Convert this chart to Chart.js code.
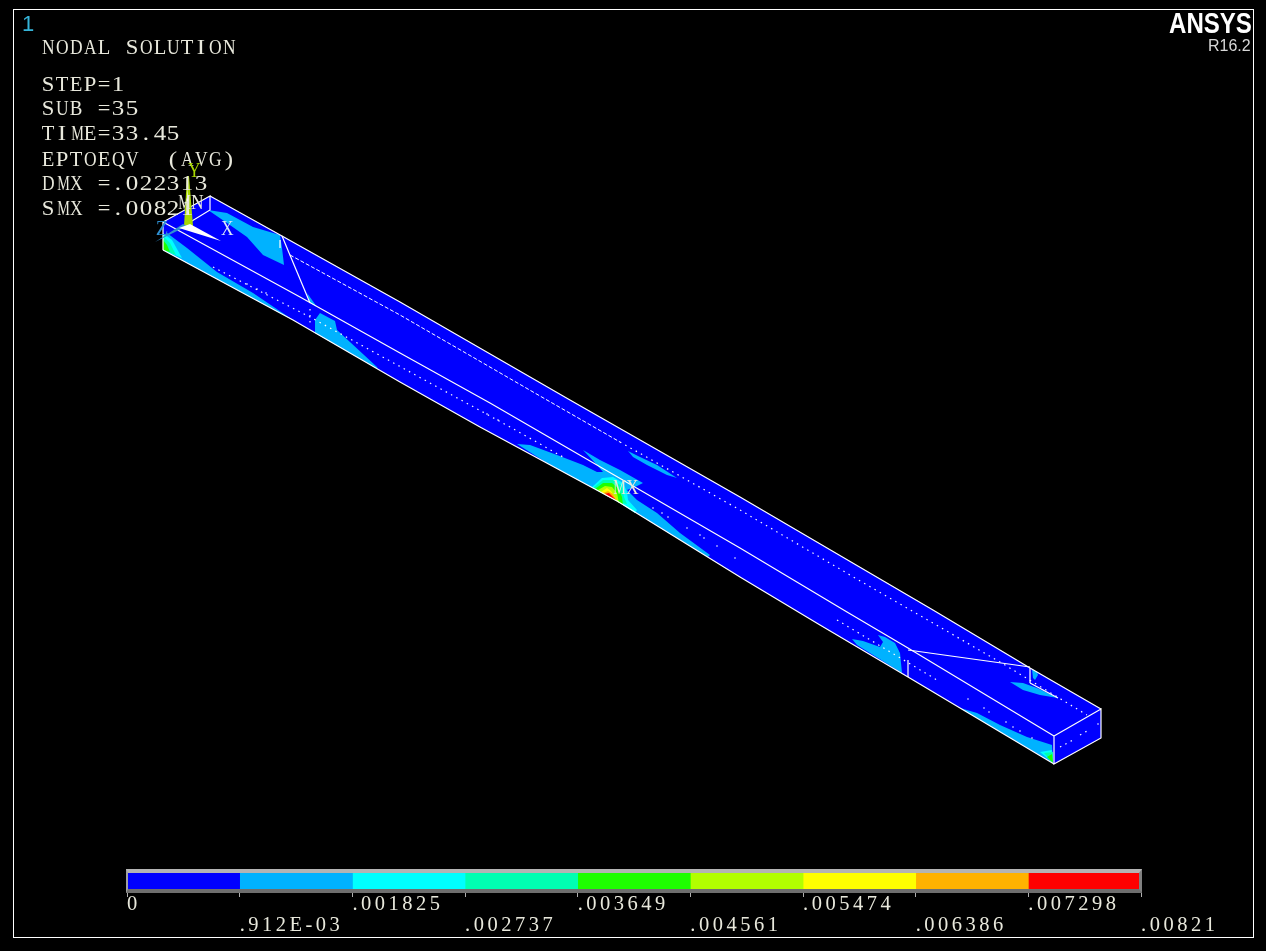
<!DOCTYPE html>
<html>
<head>
<meta charset="utf-8">
<script src="https://cdn.jsdelivr.net/npm/chart.js@4"></script>
<style>
html,body{margin:0;padding:0;background:#000;width:1266px;height:951px;overflow:hidden}
canvas{position:absolute;left:0}
#frame{position:absolute;left:13px;top:9px;width:1239px;height:927px;border:1px solid #fff;pointer-events:none}
#barframe{position:absolute;left:126px;top:869px;width:1011px;height:16px;border-top:4px solid #b4b4b4;border-bottom:4px solid #6e6e6e;border-left:2px solid #a0a0a0;border-right:3px solid #808080;pointer-events:none}
.t{position:absolute;white-space:pre;font-family:"Liberation Serif",serif;font-size:20.5px;line-height:24px;color:#e8e8dc}
.t span{display:inline-block;width:13.95px;text-align:center}
.s{font-family:"Liberation Sans",sans-serif}
</style>
</head>
<body>
<canvas id="beam" width="1266" height="951" style="top:0"></canvas>
<canvas id="bar" width="1266" height="72" style="top:869px"></canvas>
<div id="barframe"></div>
<div id="frame"></div>
<div id="labels"></div>
<script>
// ---------- legend ----------
const levels = [0, .000912, .001825, .002737, .003649, .004561, .005474, .006386, .007298, .00821];
const levelLabels = ['0', '.912E-03', '.001825', '.002737', '.003649', '.004561', '.005474', '.006386', '.007298', '.00821'];
const bandColors = ['#0000ff', '#00b2ff', '#00ffff', '#00ffb2', '#1eff00', '#b2ff00', '#ffff00', '#ffb200', '#ff0000'];

// ---------- beam edges (deformed shape) ----------
const edgeBack = [[210,196],[282,236],[400,302],[570,400],[740,497],[933,610],[1030,668],[1101,709]];
const edgeNear = [[163,222],[300,297],[400,353],[490,403],[740,548],[847,612],[908,648],[1054,736]];
const edgeBottom = [[163,250],[293,320],[400,382],[480,427],[617,501],[740,577],[820,625],[908,677],[1054,764]];
const edgeEndFace = [[1054,736],[1101,709],[1101,738],[1054,764]];
const edgeStartTop = [[163,250],[163,222],[210,196],[210,210],[187,224]];

// ---------- contour patches ----------
const patchA = [[208,210],[227,213],[253,227],[280,235],[282,248],[284,265],[263,255],[247,237],[227,223]];
const patchB = [[167,233],[187,248],[217,272],[253,293],[293,320],[163,250]];
const patchC = [[315,320],[320,313],[335,321],[337,330],[377,367],[378,369],[315,333]];
const patchC2 = [[307,293],[317,307],[310,303]];
const patchMid = [[517,444],[530,445],[557,455],[583,465],[597,472],[603,472],[597,465],[583,450],[600,460],[620,470],[643,483],[637,486],[627,490],[637,500],[657,513],[680,533],[710,555],[708,557],[617,501],[580,481],[547,463]];
const patchUpper = [[628,451],[640,457],[657,465],[677,478],[667,475],[647,465],[633,457]];
const patchE = [[852,639],[863,641],[880,647],[883,642],[878,635],[885,637],[895,643],[900,653],[902,673],[857,645]];
const patchF = [[1010,682],[1023,683],[1037,688],[1058,698],[1040,695],[1023,690]];
const patchG = [[1032,669],[1037,672],[1038,675],[1035,680],[1033,678]];
const patchH = [[960,708],[977,713],[1000,725],[1027,737],[1052,745],[1053,763]];
const hotCyan = [[592,487],[602,478],[613,477],[623,483],[627,492],[628,500],[637,510],[635,513],[620,503],[607,496]];
const hotTeal = [[593,488],[603,480],[613,480],[622,486],[624,497],[627,504],[620,503],[607,496]];
const hotGreen = [[595,489],[603,483],[612,483],[618,488],[622,497],[623,505],[617,501],[607,496]];
const hotLime = [[598,490],[605,486],[612,487],[617,493],[619,503],[617,501],[608,496]];
const hotYellow = [[601,492],[607,488],[611,491],[615,497],[617,501],[608,496]];
const hotOrange = [[603,493],[608,491],[613,494],[617,501],[608,496]];
const hotRed = [[604,494],[609,493],[613,497],[617,501],[609,497]];
const farCyan = [[1040,752],[1052,750],[1053,763]];
const farTeal = [[1044,753],[1053,752],[1053,763]];
const farGreen = [[1047,757],[1052,754],[1053,763]];
const startCyan = [[163,233],[172,240],[182,258],[163,250]];
const startTeal = [[163,236],[170,243],[176,255],[163,250]];
const startGreen = [[163,240],[167,245],[170,252],[163,250]];

// ---------- element lines ----------
const lineDiagLeft = [[282,236],[310,303]];
const lineDiagRight = [[908,650],[1030,667]];
const lineTickA = [[280,240],[280,248]];
const lineTickB = [[908,660],[908,677]];
const lineTickC = [[1030,668],[1030,683]];
const lineTickD = [[1030,683],[1058,698]];
const dashUpperLeft = [[290,255],[400,315],[540,396],[620,442]];
const dotUpperRight = [[620,442],[740,510],[850,575],[1000,662],[1087,715]];
const dotLower = [[213,267],[310,317],[510,427],[563,457]];
const dotLower2 = [[837,620],[937,680]];
const dotTick = [[310,309],[310,323]];
const dotEnd = [[1060,747],[1073,740]];
const dotEnd2 = [[1080,735],[1089,730]];
const scatterDots = [[487,414],[498,420],[653,508],[662,513],[668,517],[687,528],[700,535],[704,538],[717,546],[735,558],[968,699],[984,708],[989,712],[1006,722],[1013,727],[1020,731],[1032,738],[1098,724],[247,284],[257,289],[266,293]];

// ---------- axis triad ----------
const triadY = [[187,176],[189,176],[193,226],[184,226]];
const triadYCore = [[187,185],[188,185],[189,215],[187,215]];
const triadZ = [[183,224],[187,226],[155,242]];
const triadX = [[179,228],[190,224],[221,241]];

const area = p => p.map(([x, y]) => ({x, y}));
const rev = a => a.slice().reverse();
const beamLayers = [];
function poly(points, color) {
  const closed = points.concat([points[0]]);
  beamLayers.push({type:'line', data:area(closed), fill:'shape', backgroundColor:color, borderWidth:0, pointRadius:0, tension:0});
}
function stroke(points, color, width, dash) {
  beamLayers.push({type:'line', data:area(points), fill:false, borderColor:color, borderWidth:width, borderDash:dash||[], pointRadius:0, tension:0});
}
const [blue, sky, cyan, teal, green, lime, yellow, orange, red] = bandColors;

poly(edgeBack.concat(rev(edgeNear)), blue);
poly(edgeNear.concat(rev(edgeBottom)), blue);
poly(edgeEndFace, blue);
[patchA, patchB, patchC, patchC2, patchMid, patchUpper, patchE, patchF, patchG, patchH].forEach(p => poly(p, sky));
poly(hotCyan, cyan); poly(hotTeal, teal); poly(hotGreen, green); poly(hotLime, lime);
poly(hotYellow, yellow); poly(hotOrange, orange); poly(hotRed, red);
poly(farCyan, cyan); poly(farTeal, teal); poly(farGreen, green);
poly(startCyan, cyan); poly(startTeal, teal); poly(startGreen, green);

[edgeBack, edgeNear, edgeBottom, edgeEndFace.concat([edgeEndFace[0]]), edgeStartTop,
 lineDiagLeft, lineDiagRight, lineTickA, lineTickB, lineTickC, lineTickD].forEach(l => stroke(l, '#ffffff', 1.2));
stroke(dashUpperLeft, '#ffffff', 1, [4, 2]);
[dotUpperRight, dotLower, dotLower2, dotTick, dotEnd, dotEnd2].forEach(l => stroke(l, '#ffffff', 1.2, [1.5, 4.5]));
beamLayers.push({type:'line', data:area(scatterDots), showLine:false, pointRadius:.8, pointBackgroundColor:'#fff', pointBorderWidth:0});

poly(triadY, '#a8d800'); poly(triadYCore, '#ffffff');
poly(triadZ, '#2f8fd0'); poly(triadX, '#ffffff');

// Chart.js paints dataset 0 last, so the painter's list is reversed.
new Chart(document.getElementById('beam'), {
  type:'line',
  data:{datasets:beamLayers.slice().reverse()},
  options:{
    responsive:false, animation:false, devicePixelRatio:1,
    layout:{padding:0, autoPadding:false},
    plugins:{legend:{display:false}, tooltip:{enabled:false}, title:{display:false}},
    scales:{
      x:{type:'linear', min:0, max:1266, display:false},
      y:{type:'linear', min:0, max:951, reverse:true, display:false}
    }
  }
});

new Chart(document.getElementById('bar'), {
  type:'bar',
  plugins:[{id:'spacedTicks', beforeDraw:c => { c.ctx.letterSpacing = '3.5px'; }}],
  data:{
    labels:['EPTOEQV'],
    datasets:bandColors.map((c, i) => ({
      data:[[levels[i], levels[i + 1]]], backgroundColor:c, borderWidth:0,
      barPercentage:1, categoryPercentage:1, grouped:false
    }))
  },
  options:{
    indexAxis:'y', responsive:false, animation:false, devicePixelRatio:1,
    layout:{padding:{left:127, right:125, top:4, bottom:0}},
    plugins:{legend:{display:false}, tooltip:{enabled:false}},
    scales:{
      y:{display:false},
      x:{
        type:'linear', min:0, max:levels[levels.length - 1], position:'bottom',
        border:{display:false},
        grid:{drawOnChartArea:false, drawTicks:true, tickLength:8, color:'#b0b0b0', lineWidth:1},
        afterBuildTicks:s => { s.ticks = levels.map(value => ({value})); },
        afterFit:s => { s.height = 52; },
        ticks:{
          autoSkip:false, maxRotation:0, minRotation:0, align:'start', padding:-3,
          color:'#e8e8dc', font:{family:'"Liberation Serif", serif', size:20.5, lineHeight:1.03},
          callback:(v, i) => i % 2 ? ['', levelLabels[i]] : levelLabels[i]
        }
      }
    }
  }
});

// ---------- text ----------
const infoLines = [
  ['NODAL SOLUTION', 41, 35], ['STEP=1', 41, 72], ['SUB =35', 41, 96], ['TIME=33.45', 41, 121],
  ['EPTOEQV  (AVG)', 41, 147], ['DMX =.022313', 41, 171], ['SMX =.00821', 41, 196],
  ['MN', 176, 190], ['MX', 611, 475]
];
const box = document.getElementById('labels');
const meter = document.createElement('canvas').getContext('2d');
meter.font = '20.5px "Liberation Serif"';
function addText(txt, x, y, extra, cls) {
  const d = document.createElement('div');
  d.className = 't ' + (cls || '');
  if (cls) d.textContent = txt;
  else for (const ch of txt) {
    // every glyph is fitted to the even cell width of the original's monospaced face
    const c = document.createElement('span');
    c.textContent = ch;
    const w = meter.measureText(ch).width || 1;
    const fit = Math.min(12.6, w * 1.22) / w;
    c.style.transform = 'scaleX(' + fit.toFixed(3) + ')';
    d.appendChild(c);
  }
  d.style.left = x + 'px';
  d.style.top = y + 'px';
  Object.assign(d.style, extra || {});
  box.appendChild(d);
}
infoLines.forEach(([t, x, y]) => addText(t, x, y));
addText('Y', 187, 158, {color:'#a8d800'});
addText('Z', 155, 216, {color:'#2f8fd0'});
addText('X', 220, 216, {color:'#d8e8f8'});
addText('1', 22, 12, {color:'#35b4d8', fontSize:'22px'}, 's');
addText('ANSYS', 1169, 11, {color:'#fff', fontSize:'29px', fontWeight:'bold', transform:'scaleX(.83)', transformOrigin:'left top'}, 's');
addText('R16.2', 1208, 34, {color:'#d8d8d8', fontSize:'16px'}, 's');
</script>
</body>
</html>
